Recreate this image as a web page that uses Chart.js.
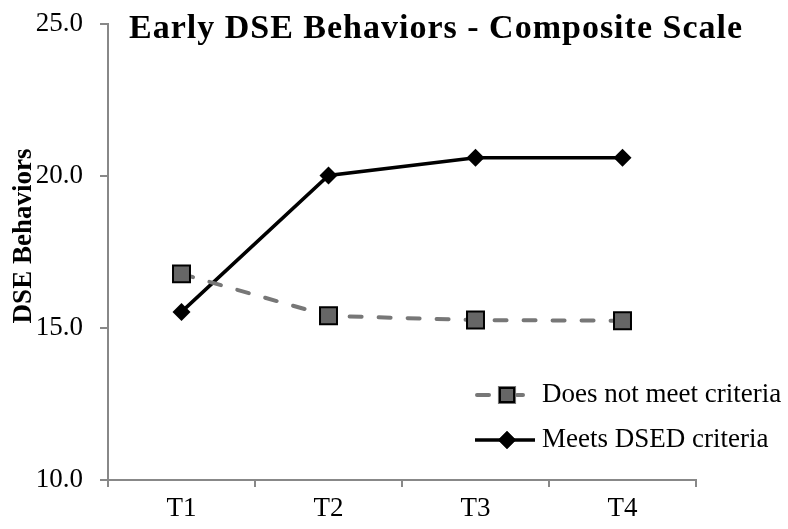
<!DOCTYPE html>
<html>
<head>
<meta charset="utf-8">
<script src="https://cdn.jsdelivr.net/npm/chart.js@4/dist/chart.umd.min.js"></script>
<style>
  html, body { margin: 0; padding: 0; background: #fff; }
  #wrap { width: 788px; height: 529px; }
</style>
</head>
<body>
<div id="wrap"><canvas id="dse"></canvas></div>
<script>
// time points on the x axis
const timePoints = ['T1', 'T2', 'T3', 'T4'];
// group means
const doesNotMeet = [16.78, 15.40, 15.26, 15.24];
const meetsDSED = [15.53, 20.02, 20.60, 20.60];
// y axis range
const yMin = 10;
const yMax = 25;
const yStep = 5;

const chartTitle = 'Early DSE Behaviors - Composite Scale';
const yTitle = 'DSE Behaviors';

const serif = '"Liberation Serif", "Times New Roman", serif';
const axisGray = '#888888';

// draws the titles and the in-plot legend (excel style) after the chart
const figureText = {
    id: 'figureText',
    afterDraw(chart) {
        const ctx = chart.ctx;
        ctx.save();

        // title overlaps the top of the axis so it is drawn by hand
        ctx.fillStyle = '#000';
        ctx.font = 'bold 34px ' + serif;
        ctx.letterSpacing = '1px';
        ctx.textAlign = 'center';
        ctx.textBaseline = 'alphabetic';
        ctx.fillText(chartTitle, 436, 38);
        ctx.letterSpacing = '0px';

        // y axis title, rotated, sits a bit above the middle of the axis
        ctx.save();
        ctx.translate(24, 236);
        ctx.rotate(-Math.PI / 2);
        ctx.font = 'bold 27px ' + serif;
        ctx.textBaseline = 'middle';
        ctx.fillText(yTitle, 0, 0);
        ctx.restore();

        // legend rows
        const rows = [395, 440];
        chart.data.datasets.forEach(function(ds, i) {
            const y = rows[i];
            ctx.strokeStyle = ds.borderColor;
            ctx.lineWidth = ds.borderWidth;
            ctx.lineCap = ds.borderCapStyle || 'butt';
            ctx.beginPath();
            if (ds.borderDash) {
                ctx.moveTo(477, y);
                ctx.lineTo(489, y);
                ctx.moveTo(517, y);
                ctx.lineTo(523, y);
            } else {
                ctx.moveTo(475, y);
                ctx.lineTo(535, y);
            }
            ctx.stroke();
            ctx.lineCap = 'butt';
            Chart.helpers.drawPoint(ctx, {
                pointStyle: ds.pointStyle,
                radius: ds.legendRadius,
                borderWidth: ds.pointBorderWidth
            }, ds.legendX, y);
            ctx.fillStyle = ds.pointBackgroundColor;
            ctx.fill();
            if (ds.pointBorderWidth) {
                ctx.strokeStyle = ds.pointBorderColor;
                ctx.lineWidth = ds.pointBorderWidth;
                ctx.stroke();
            }
            ctx.fillStyle = '#000';
            ctx.font = '27px ' + serif;
            ctx.textAlign = 'left';
            ctx.textBaseline = 'middle';
            ctx.fillText(ds.label, 542, y);
        });
        ctx.restore();
    }
};

window.chartReference = new Chart(document.getElementById('dse'), {
    type: 'line',
    data: {
        labels: timePoints,
        datasets: [
            {
                label: 'Does not meet criteria',
                data: doesNotMeet,
                borderColor: '#777777',
                borderWidth: 4,
                borderDash: [12, 17],
                borderCapStyle: 'round',
                pointStyle: 'rect',
                pointRadius: 12,
                pointHoverRadius: 12,
                pointBackgroundColor: '#666666',
                pointBorderColor: '#000000',
                pointBorderWidth: 2,
                legendRadius: 10,
                legendX: 507,
                tension: 0
            },
            {
                label: 'Meets DSED criteria',
                data: meetsDSED,
                borderColor: '#000000',
                borderWidth: 3.5,
                pointStyle: 'rectRot',
                pointRadius: 9,
                pointHoverRadius: 9,
                pointBackgroundColor: '#000000',
                pointBorderColor: '#000000',
                pointBorderWidth: 0,
                legendRadius: 9,
                legendX: 507,
                tension: 0
            }
        ]
    },
    options: {
        responsive: true,
        maintainAspectRatio: false,
        animation: false,
        layout: {
            padding: { left: 0, right: 92, top: 24, bottom: 0 }
        },
        plugins: {
            title: { display: false },
            legend: { display: false },
            tooltip: { enabled: false }
        },
        scales: {
            x: {
                offset: true,
                grid: {
                    offset: true,
                    drawOnChartArea: false,
                    drawTicks: true,
                    tickLength: 7,
                    color: axisGray,
                    lineWidth: 2
                },
                border: { color: axisGray, width: 2 },
                ticks: {
                    color: '#000',
                    font: { family: serif, size: 27 },
                    padding: 6
                },
                afterFit: function(scale) { scale.height = 49; }
            },
            y: {
                min: yMin,
                max: yMax,
                grid: {
                    drawOnChartArea: false,
                    drawTicks: true,
                    tickLength: 8,
                    color: axisGray,
                    lineWidth: 2
                },
                border: { color: axisGray, width: 2 },
                ticks: {
                    stepSize: yStep,
                    color: '#000',
                    font: { family: serif, size: 27 },
                    padding: 17,
                    callback: function(v) { return Number(v).toFixed(1); }
                },
                afterFit: function(scale) {
                    scale.width = 108;
                    // don't let the top label push the plot down, the layout padding handles it
                    scale.paddingTop = 0;
                    scale.paddingBottom = 0;
                }
            }
        }
    },
    plugins: [figureText]
});
</script>
</body>
</html>
